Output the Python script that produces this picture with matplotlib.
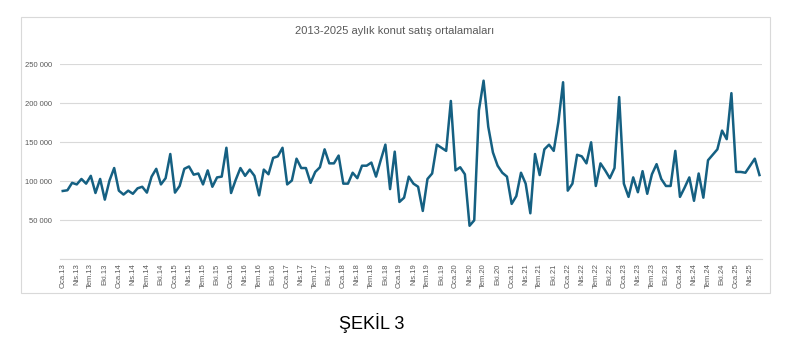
import matplotlib.pyplot as plt
from matplotlib.patches import Rectangle
from matplotlib.ticker import FuncFormatter

months = ["Oca", "Şub", "Mar", "Nis", "May", "Haz",
          "Tem", "Ağu", "Eyl", "Eki", "Kas", "Ara"]

# monthly average house sales, Jan 2013 .. Jun 2025 (thousands)
sales_k = [
    # 2013
    87.6, 88.5, 98, 96, 103, 97, 107, 85, 103, 76.5, 101, 117,
    # 2014
    88, 83, 88, 84, 91, 93, 85.5, 106, 116, 96, 104, 135,
    # 2015
    85.5, 94, 116, 119, 108.5, 110, 96, 114, 93, 105, 106, 143,
    # 2016
    85, 102, 117, 107, 115, 107, 82, 115, 109, 130, 132, 143,
    # 2017
    96, 101, 129, 117, 117, 98, 112, 118, 141, 123, 123, 133,
    # 2018
    97, 97, 111, 104, 120, 120, 124, 106, 127, 147, 90, 138,
    # 2019
    73.5, 79, 106, 97, 93, 62, 103, 110, 147, 143, 139, 203,
    # 2020
    114, 118, 109, 43, 50, 191, 229, 170, 137, 120, 111, 106,
    # 2021
    71, 81, 111, 97, 59, 135, 108, 141, 147, 139, 176, 227,
    # 2022
    88, 97, 134, 132, 123, 150, 94, 123, 114, 104, 117, 208,
    # 2023
    97, 80, 105, 86, 113, 84, 109, 122, 103, 94, 94, 139,
    # 2024
    80, 92, 105, 75, 110, 79, 127, 134, 141, 165, 154, 213,
    # 2025
    112, 112, 111, 120, 129, 108,
]
sales = [v * 1000 for v in sales_k]

labels = []
for i in range(len(sales)):
    year = 13 + i // 12
    labels.append(f"{months[i % 12]}.{year:02d}")

tick_pos = list(range(0, len(sales), 3))
tick_labels = [labels[i] for i in tick_pos]

W, H = 802, 343
fig = plt.figure(figsize=(W / 100, H / 100), dpi=100)
font = ["Liberation Sans Narrow", "Liberation Sans", "DejaVu Sans"]
txt_color = "#595959"

# chart border
fig.patches.append(Rectangle((21 / W, 1 - 293 / H), (770 - 21) / W, (293 - 17) / H,
                             transform=fig.transFigure, fill=False,
                             edgecolor="#D9D9D9", linewidth=0.8))

ax = fig.add_axes([60.4 / W, 83.7 / H, 701.4 / W, 195 / H])
ax.plot(range(len(sales)), sales, color="#156082", linewidth=1.8,
        solid_joinstyle="round")

ax.set_xlim(-0.5, len(sales) - 0.5)
ax.set_ylim(0, 250000)
ax.set_yticks([0, 50000, 100000, 150000, 200000, 250000])
ax.yaxis.set_major_formatter(FuncFormatter(
    lambda v, p: "" if v == 0 else f"{int(v):,}".replace(",", " ")))
ax.set_xticks(tick_pos)
ax.set_xticklabels(tick_labels, rotation=90)

ax.grid(axis="y", color="#D9D9D9", linewidth=0.8)
ax.set_axisbelow(True)
for s in ["top", "right", "left"]:
    ax.spines[s].set_visible(False)
ax.spines["bottom"].set_color("#D9D9D9")
ax.spines["bottom"].set_linewidth(0.8)
ax.tick_params(length=0, labelsize=5.5, labelcolor=txt_color)
ax.tick_params(axis="y", pad=6)
ax.tick_params(axis="x", pad=3)
for t in ax.get_xticklabels() + ax.get_yticklabels():
    t.set_family(font)

fig.text(395 / W, 1 - 31 / H, "2013-2025 aylık konut satış ortalamaları",
         ha="center", va="center", fontsize=8, color=txt_color, family=font)
fig.text(372 / W, 1 - 323 / H, "ŞEKİL 3", ha="center", va="center",
         fontsize=13, color="black", family=["Liberation Sans", "DejaVu Sans"])

fig.savefig("out.png", dpi=100)
